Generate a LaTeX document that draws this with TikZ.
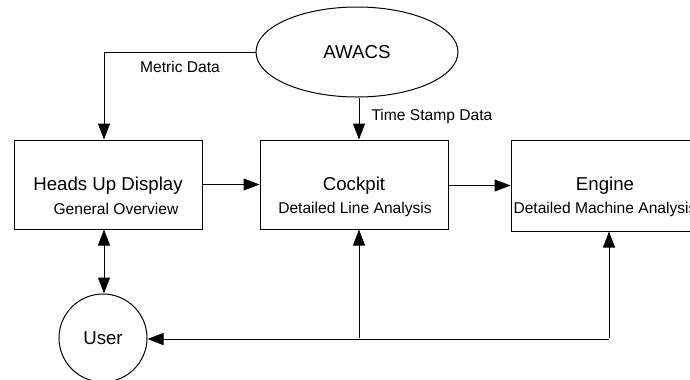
\documentclass[tikz,border=0pt]{standalone}
\usepackage{fontspec}
\setmainfont{Liberation Sans}
\usetikzlibrary{arrows.meta,shapes.geometric,calc}
\begin{document}
\begin{tikzpicture}[x=0.75pt,y=-0.75pt,
  line width=0.75pt,
  box/.style={draw,rectangle,inner sep=0pt,minimum width=141pt,minimum height=66.75pt},
  title/.style={inner sep=0pt,font=\fontsize{14}{16}\selectfont},
  sub/.style={inner sep=0pt,font=\fontsize{11.7}{14}\selectfont},
  arr/.style={-{Triangle[length=12pt,width=9pt]}},
  darr/.style={{Triangle[length=12pt,width=9pt]}-{Triangle[length=12pt,width=9pt]}}]
\useasboundingbox (0,0) rectangle (690,379);
\clip (0,0) rectangle (690,379);

% entities
\node[draw,ellipse,inner sep=0pt,minimum width=151.5pt,minimum height=67.5pt,
      font=\fontsize{14}{16}\selectfont] (awacs) at (357,52) {AWACS};
\node[box] (hud) at (108,184.5) {};
\node[box] (cockpit) at (354,184.5) {};
\node[box,minimum height=68.25pt] (engine) at (605,185.5) {};
\node[draw,circle,inner sep=0pt,minimum size=66pt,
      font=\fontsize{14}{16}\selectfont] (user) at (103,338) {User};

% box texts
\node[title] (hudt) at ($(hud.center)+(0,1)$) {Heads Up Display};
\node[sub] (huds) at ($(hud.center)+(8,24.5)$) {General Overview};
\node[title] (cockt) at ($(cockpit.center)+(0,1)$) {Cockpit};
\node[sub] (cocks) at ($(cockpit.center)+(1,24.5)$) {Detailed Line Analysis};
\node[title] (engt) at ($(engine.center)+(0,0)$) {Engine};
\node[sub] (engs) at ($(engine.center)+(0,23.5)$) {Detailed Machine Analysis};

% data flows
\draw[arr] (awacs.west) -| ([xshift=-3pt]hud.north);
\node[sub] (metric) at (180,67) {Metric Data};
\draw[arr] ([xshift=1.5pt]awacs.south) -- ([xshift=1.5pt]awacs.south |- cockpit.north);
\node[sub,anchor=west] (stamp) at (371,116) {Time Stamp Data};
\draw[arr] (hud.east) -- (cockpit.west);
\draw[arr] ([yshift=-0.75pt]cockpit.east) -- ([yshift=-0.75pt]cockpit.east -| engine.west);
\draw[darr] ([xshift=-3pt]hud.south) -- ([xshift=-3pt]hud.south |- user.north);

% feedback loop
\coordinate (j1) at ([xshift=3.75pt]cockpit.south |- user.east);
\coordinate (j2) at ([xshift=3pt]engine.south |- user.east);
\draw[arr] ([yshift=-0.75pt]j2) -- ([yshift=-0.75pt]user.east);
\draw[arr] (j1) -- (j1 |- cockpit.south);
\draw[arr] (j2) -- (j2 |- engine.south);
\end{tikzpicture}
\end{document}
